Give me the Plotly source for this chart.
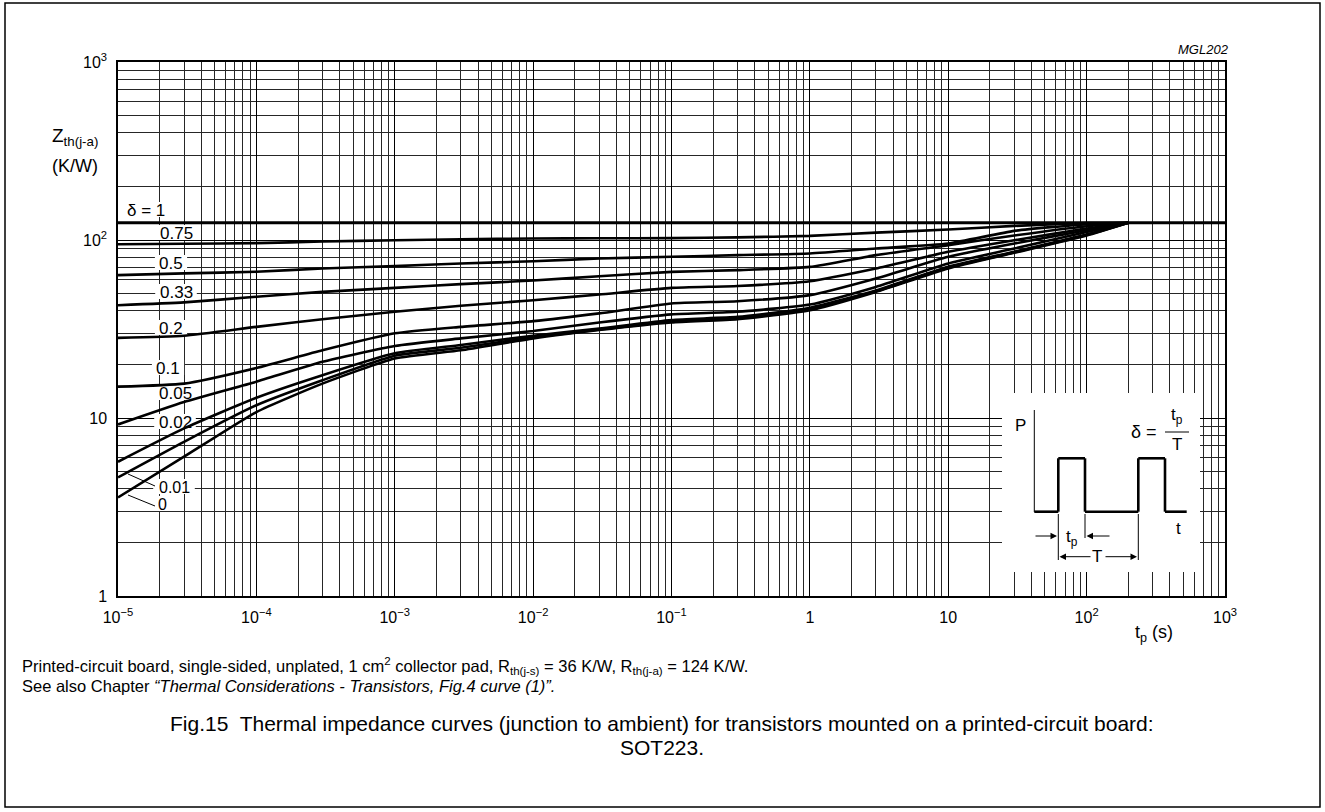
import plotly.graph_objects as go

# pulse time t_p (s)
t = [1e-5, 3e-5, 1e-4, 3e-4, 1e-3, 3e-3, 1e-2, 3e-2, 0.1, 0.3, 1, 3, 10, 30, 100, 200]
t_full = [1e-5, 1000]

# Zth(j-a) (K/W) for each duty factor
z_1 = [125, 125]
z_075 = [94.7, 95.3, 96, 98, 99.7, 101, 102, 102.3, 102.5, 103.5, 105.5, 110, 114.5, 120, 124.5, 125]
z_05 = [63.5, 64.9, 66.3, 69.2, 71.3, 73.8, 76, 78.7, 80.5, 82.2, 84, 89.6, 95.5, 112.5, 122.7, 125]
z_033 = [43, 44.6, 48, 51.1, 53.8, 56.5, 59.2, 62.6, 66.2, 67.7, 70.6, 82.2, 93.5, 106, 119.5, 125]
z_02 = [28.2, 29, 32.5, 35.9, 39.5, 42.7, 45.9, 49.4, 53.8, 55.2, 58.7, 69.2, 85.8, 99.7, 116, 125]
z_01 = [15.0, 15.6, 19.1, 24, 29.9, 32.5, 35, 38.7, 44, 45.3, 49, 60.8, 80.4, 95.5, 113.5, 125]
z_005 = [9.2, 12.3, 16, 20.7, 25.4, 28, 30.8, 34.4, 38.2, 39.5, 43.4, 54.5, 73.8, 89.5, 111, 125]
z_002 = [5.68, 8.74, 13, 17.4, 23.1, 25.7, 29, 31.8, 35.5, 37, 41.6, 52, 70.8, 86, 107.5, 125]
z_001 = [4.64, 7.35, 11.8, 16.3, 22.4, 24.8, 28.4, 31.4, 34.9, 36.4, 40.9, 51.5, 70, 85.3, 106.7, 125]
z_0 = [3.58, 6.06, 10.8, 15.6, 21.6, 24, 28, 31.2, 34.4, 35.9, 40.3, 51.1, 69.2, 84.7, 106, 125]

curves = [("0.75", z_075), ("0.5", z_05), ("0.33", z_033), ("0.2", z_02),
          ("0.1", z_01), ("0.05", z_005), ("0.02", z_002), ("0.01", z_001), ("0", z_0)]

x_ticks = [1e-5, 1e-4, 1e-3, 1e-2, 1e-1, 1, 10, 100, 1000]
x_ticktext = ["10<sup>\u22125</sup>", "10<sup>\u22124</sup>", "10<sup>\u22123</sup>", "10<sup>\u22122</sup>",
              "10<sup>\u22121</sup>", "1", "10", "10<sup>2</sup>", "10<sup>3</sup>"]
y_ticks = [1, 10, 100, 1000]
y_ticktext = ["1", "10", "10<sup>2</sup>", "10<sup>3</sup>"]

FONT = "Liberation Sans, Arial, sans-serif"
W, H = 1325, 812
L, R, T, B = 118, 100, 62, 216
PW, PH = W - L - R, H - T - B


def px(x, y):
    # page pixel -> paper coords
    return (x - L) / PW, (H - B - y) / PH


def px_data(x, y):
    # page pixel -> data coords (log axes, 8 x 3 decades)
    return 10 ** (-5 + (x - L) / PW * 8), 10 ** ((H - B - y) / PH * 3)


fig = go.Figure()


def white_box(x0, y0, x1, y1):
    # white patch drawn over the grid but under the curves
    a, b = px_data(x0, y0)
    c, d = px_data(x1, y1)
    fig.add_trace(go.Scatter(x=[a, c, c, a, a], y=[b, b, d, d, b], mode="lines",
                             fill="toself", fillcolor="white", line=dict(width=0),
                             hoverinfo="skip", showlegend=False))


shapes = []
annotations = []


def line(x0, y0, x1, y1, w=1.0):
    a, b = px(x0, y0)
    c, d = px(x1, y1)
    shapes.append(dict(type="line", xref="paper", yref="paper", x0=a, y0=b, x1=c, y1=d,
                       line=dict(color="black", width=w), layer="above"))


def text(x, y, s, size=16, xanchor="center", italic=False):
    a, b = px(x, y)
    if italic:
        s = "<i>" + s + "</i>"
    annotations.append(dict(xref="paper", yref="paper", x=a, y=b, text=s, showarrow=False,
                            xanchor=xanchor, yanchor="middle",
                            font=dict(family=FONT, size=size, color="black")))


# curve labels (white patch cuts the grid)
labels = [("\u03b4 = 1", 146, 210, 17), ("0.75", 176, 233, 17), ("0.5", 171, 263, 17),
          ("0.33", 176, 292, 17), ("0.2", 171, 328, 17), ("0.1", 168, 368, 17),
          ("0.05", 175, 393, 17), ("0.02", 175, 422, 17), ("0.01", 174, 487, 16), ("0", 162, 504, 16)]
for s, x, y, fs in labels:
    w = 9.4 * len(s) + 4
    white_box(x - w / 2, y - 8, x + w / 2, y + 7)
    text(x, y, s, size=fs)
line(128, 474, 155, 486)
line(128, 495, 155, 506)

# inset area
white_box(1002, 393, 1200, 572)

fig.add_trace(go.Scatter(x=t_full, y=z_1, mode="lines", name="1",
                         line=dict(color="black", width=3)))
for name, z in curves:
    fig.add_trace(go.Scatter(x=t, y=z, mode="lines", name=name,
                             line=dict(color="black", width=2.6, shape="spline", smoothing=0.5)))

# inset: pulse train
line(1034.3, 410, 1034.3, 512)
pulse = [(1034.3, 511.7), (1058.3, 511.7), (1058.3, 458.3), (1085, 458.3), (1085, 511.7),
         (1138.3, 511.7), (1138.3, 458.3), (1165, 458.3), (1165, 511.7), (1186.7, 511.7)]
for p, q in zip(pulse[:-1], pulse[1:]):
    line(p[0], p[1], q[0], q[1], 2.6)
line(1058.3, 514, 1058.3, 560)
line(1085, 514, 1085, 538)
line(1138.3, 514, 1138.3, 560)
text(1020, 425, "P", 17)
text(1178, 528, "t", 17)
text(1072, 538, "t<sub>p</sub>", 17)
text(1097, 556, "T", 17)
text(1144, 432, "\u03b4 =", 18)
text(1177, 416, "t<sub>p</sub>", 17)
line(1165, 432, 1189, 432)
text(1177, 444, "T", 17)


def arrow(xh, yh, xt, yt):
    a, b = px(xh, yh)
    annotations.append(dict(xref="paper", yref="paper", x=a, y=b, ax=xt - xh, ay=yt - yh,
                            text="", showarrow=True, arrowhead=2, arrowsize=1.3,
                            arrowwidth=1, arrowcolor="black"))


arrow(1057, 536, 1034, 536)
arrow(1086.5, 536, 1111, 536)
arrow(1059.5, 556.7, 1092, 556.7)
arrow(1137, 556.7, 1104, 556.7)

# outer frame
a, b = px(5, 3)
c, d = px(1320, 807)
shapes.append(dict(type="rect", xref="paper", yref="paper", x0=a, y0=d, x1=c, y1=b,
                   line=dict(color="black", width=1.5), layer="above"))

# axis titles and captions
text(50, 137, "Z<sub>th(j-a)</sub>", 19, "left")
text(50, 166, "(K/W)", 18, "left")
text(1231, 50, "MGL202", 13, "right", italic=True)
text(1133, 633, "t<sub>p</sub> (s)", 18, "left")
text(20, 666, "Printed-circuit board, single-sided, unplated, 1 cm<sup>2</sup> collector pad, "
              "R<sub>th(j-s)</sub> = 36 K/W, R<sub>th(j-a)</sub> = 124 K/W.", 16.5, "left")
text(20, 686, "See also Chapter <i>\u201cThermal Considerations - Transistors, Fig.4 curve (1)\u201d.</i>",
     16.5, "left")
text(662, 723, "Fig.15  Thermal impedance curves (junction to ambient) for transistors mounted "
               "on a printed-circuit board:", 21)
text(662, 747, "SOT223.", 21)

axis_common = dict(type="log", showgrid=True, gridcolor="#000", gridwidth=1,
                   minor=dict(dtick="D1", showgrid=True, gridcolor="#262626", gridwidth=1),
                   showline=True, mirror=True, linecolor="black", linewidth=1.5,
                   ticks="", zeroline=False, tickfont=dict(family=FONT, size=16, color="black"),
                   tickmode="array", ticklabelstandoff=6)

fig.update_layout(
    width=W, height=H,
    margin=dict(l=L, r=R, t=T, b=B, autoexpand=False),
    paper_bgcolor="white", plot_bgcolor="white",
    showlegend=False,
    xaxis=dict(axis_common, range=[-5, 3], tickvals=x_ticks, ticktext=x_ticktext),
    yaxis=dict(axis_common, range=[0, 3], tickvals=y_ticks, ticktext=y_ticktext),
    shapes=shapes,
    annotations=annotations,
    font=dict(family=FONT, color="black"),
)

fig.write_html("out.html", config={"displayModeBar": False},
               post_script="document.body.style.margin='0px';")
